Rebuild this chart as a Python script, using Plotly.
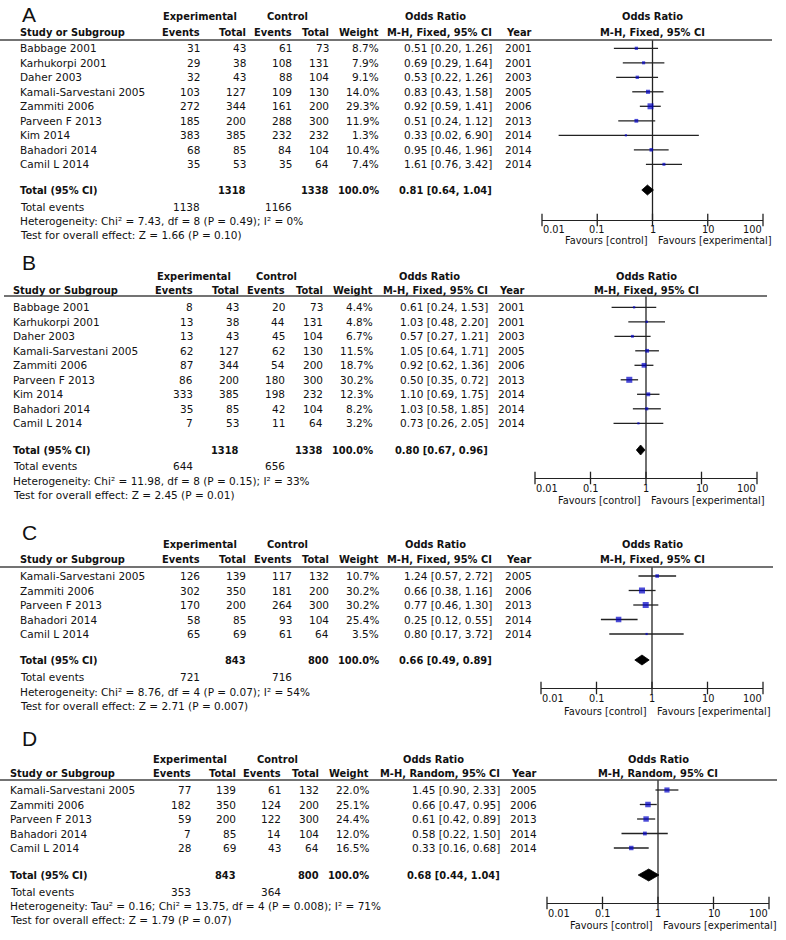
import math
import plotly.graph_objects as go

W, H = 786, 940

# ---------------- data ----------------
STUDIES_AB = ["Babbage 2001", "Karhukorpi 2001", "Daher 2003", "Kamali-Sarvestani 2005",
              "Zammiti 2006", "Parveen F 2013", "Kim 2014", "Bahadori 2014", "Camil L 2014"]
YEARS_AB = [2001, 2001, 2003, 2005, 2006, 2013, 2014, 2014, 2014]
STUDIES_CD = ["Kamali-Sarvestani 2005", "Zammiti 2006", "Parveen F 2013", "Bahadori 2014", "Camil L 2014"]
YEARS_CD = [2005, 2006, 2013, 2014, 2014]

A_exp_events = [31, 29, 32, 103, 272, 185, 383, 68, 35]
A_exp_total = [43, 38, 43, 127, 344, 200, 385, 85, 53]
A_ctl_events = [61, 108, 88, 109, 161, 288, 232, 84, 35]
A_ctl_total = [73, 131, 104, 130, 200, 300, 232, 104, 64]
A_weight = [8.7, 7.9, 9.1, 14.0, 29.3, 11.9, 1.3, 10.4, 7.4]
A_or = [0.51, 0.69, 0.53, 0.83, 0.92, 0.51, 0.33, 0.95, 1.61]
A_lo = [0.20, 0.29, 0.22, 0.43, 0.59, 0.24, 0.02, 0.46, 0.76]
A_hi = [1.26, 1.64, 1.26, 1.58, 1.41, 1.12, 6.90, 1.96, 3.42]
A_pooled = [0.81, 0.64, 1.04]
A_totals = [1318, 1338]
A_events = [1138, 1166]
A_het = "Heterogeneity: Chi² = 7.43, df = 8 (P = 0.49); I² = 0%"
A_test = "Test for overall effect: Z = 1.66 (P = 0.10)"

B_exp_events = [8, 13, 13, 62, 87, 86, 333, 35, 7]
B_exp_total = [43, 38, 43, 127, 344, 200, 385, 85, 53]
B_ctl_events = [20, 44, 45, 62, 54, 180, 198, 42, 11]
B_ctl_total = [73, 131, 104, 130, 200, 300, 232, 104, 64]
B_weight = [4.4, 4.8, 6.7, 11.5, 18.7, 30.2, 12.3, 8.2, 3.2]
B_or = [0.61, 1.03, 0.57, 1.05, 0.92, 0.50, 1.10, 1.03, 0.73]
B_lo = [0.24, 0.48, 0.27, 0.64, 0.62, 0.35, 0.69, 0.58, 0.26]
B_hi = [1.53, 2.20, 1.21, 1.71, 1.36, 0.72, 1.75, 1.85, 2.05]
B_pooled = [0.80, 0.67, 0.96]
B_totals = [1318, 1338]
B_events = [644, 656]
B_het = "Heterogeneity: Chi² = 11.98, df = 8 (P = 0.15); I² = 33%"
B_test = "Test for overall effect: Z = 2.45 (P = 0.01)"

C_exp_events = [126, 302, 170, 58, 65]
C_exp_total = [139, 350, 200, 85, 69]
C_ctl_events = [117, 181, 264, 93, 61]
C_ctl_total = [132, 200, 300, 104, 64]
C_weight = [10.7, 30.2, 30.2, 25.4, 3.5]
C_or = [1.24, 0.66, 0.77, 0.25, 0.80]
C_lo = [0.57, 0.38, 0.46, 0.12, 0.17]
C_hi = [2.72, 1.16, 1.30, 0.55, 3.72]
C_pooled = [0.66, 0.49, 0.89]
C_totals = [843, 800]
C_events = [721, 716]
C_het = "Heterogeneity: Chi² = 8.76, df = 4 (P = 0.07); I² = 54%"
C_test = "Test for overall effect: Z = 2.71 (P = 0.007)"

D_exp_events = [77, 182, 59, 7, 28]
D_exp_total = [139, 350, 200, 85, 69]
D_ctl_events = [61, 124, 122, 14, 43]
D_ctl_total = [132, 200, 300, 104, 64]
D_weight = [22.0, 25.1, 24.4, 12.0, 16.5]
D_or = [1.45, 0.66, 0.61, 0.58, 0.33]
D_lo = [0.90, 0.47, 0.42, 0.22, 0.16]
D_hi = [2.33, 0.95, 0.89, 1.50, 0.68]
D_pooled = [0.68, 0.44, 1.04]
D_totals = [843, 800]
D_events = [353, 364]
D_het = "Heterogeneity: Tau² = 0.16; Chi² = 13.75, df = 4 (P = 0.008); I² = 71%"
D_test = "Test for overall effect: Z = 1.79 (P = 0.07)"

TICK_VALS = [0.01, 0.1, 1, 10, 100]
TICK_TEXT = ["0.01", "0.1", "1", "10", "100"]

# ---------------- layout constants (pixels) ----------------
PANELS = [
    dict(label="A", method="M-H, Fixed, 95% CI", studies=STUDIES_AB, years=YEARS_AB,
         ee=A_exp_events, et=A_exp_total, ce=A_ctl_events, ct=A_ctl_total, w=A_weight,
         orr=A_or, lo=A_lo, hi=A_hi, pooled=A_pooled, totals=A_totals, events=A_events,
         het=A_het, test=A_test,
         label_y=15, h1=16, h2=32, line_y=40, row0=48.3, total_y=190, te_y=207, het_y=221, test_y=235,
         axis_y=220, tick_y=230, fav_y=241,
         sx=20, ev=200, tot=246, cev=292, ctot=329, wr=379, orr_r=492, yr=532,
         exp_c=200, ctl_c=287, orh_c=435, ax0=542, ax1=763, lx0=0, lx1=772),
    dict(label="B", method="M-H, Fixed, 95% CI", studies=STUDIES_AB, years=YEARS_AB,
         ee=B_exp_events, et=B_exp_total, ce=B_ctl_events, ct=B_ctl_total, w=B_weight,
         orr=B_or, lo=B_lo, hi=B_hi, pooled=B_pooled, totals=B_totals, events=B_events,
         het=B_het, test=B_test,
         label_y=262, h1=276, h2=290, line_y=296, row0=307.3, total_y=450, te_y=466, het_y=481, test_y=495,
         axis_y=478, tick_y=488, fav_y=500,
         sx=13, ev=193, tot=239, cev=285, ctot=323, wr=373, orr_r=488, yr=525,
         exp_c=194, ctl_c=276, orh_c=429, ax0=535, ax1=757, lx0=4, lx1=767),
    dict(label="C", method="M-H, Fixed, 95% CI", studies=STUDIES_CD, years=YEARS_CD,
         ee=C_exp_events, et=C_exp_total, ce=C_ctl_events, ct=C_ctl_total, w=C_weight,
         orr=C_or, lo=C_lo, hi=C_hi, pooled=C_pooled, totals=C_totals, events=C_events,
         het=C_het, test=C_test,
         label_y=532, h1=544, h2=559, line_y=567, row0=576, total_y=660, te_y=677, het_y=692, test_y=706,
         axis_y=688, tick_y=698, fav_y=711,
         sx=20, ev=200, tot=246, cev=292, ctot=329, wr=379, orr_r=492, yr=532,
         exp_c=200, ctl_c=287, orh_c=435, ax0=541, ax1=763, lx0=0, lx1=773),
    dict(label="D", method="M-H, Random, 95% CI", studies=STUDIES_CD, years=YEARS_CD,
         ee=D_exp_events, et=D_exp_total, ce=D_ctl_events, ct=D_ctl_total, w=D_weight,
         orr=D_or, lo=D_lo, hi=D_hi, pooled=D_pooled, totals=D_totals, events=D_events,
         het=D_het, test=D_test,
         label_y=738, h1=759, h2=773, line_y=780, row0=790, total_y=875, te_y=892, het_y=906, test_y=920,
         axis_y=903, tick_y=913, fav_y=925,
         sx=10, ev=191, tot=236, cev=281, ctot=319, wr=369, orr_r=500, yr=537,
         exp_c=190, ctl_c=277, orh_c=433, ax0=547, ax1=769, lx0=0, lx1=777),
]
ROW_SP = 14.5

FONT = "DejaVu Sans"
FS = 10.5
FS_BOLD = 9.9
FS_AXIS = 9.8
TXT = "#111111"
LINE = "#222222"
BLUE = "#0000c8"

fig = go.Figure()
annotations = []
shapes = []


def px(x):
    return x / W


def py(y):
    return 1 - y / H


def text(x, y, s, anchor="left", bold=False, size=None, family=FONT):
    if size is None:
        size = FS_BOLD if bold else FS
    annotations.append(dict(
        x=px(x), y=py(y), xref="paper", yref="paper",
        text=f"<b>{s}</b>" if bold else s, showarrow=False,
        xanchor=anchor, yanchor="middle", borderpad=0, borderwidth=0,
        font=dict(family=family, size=size, color=TXT)))


layout_axes = {}
for k, P in enumerate(PANELS, start=1):
    xa = "x" if k == 1 else f"x{k}"
    ya = "y" if k == 1 else f"y{k}"
    xkey = "xaxis" if k == 1 else f"xaxis{k}"
    ykey = "yaxis" if k == 1 else f"yaxis{k}"
    n = len(P["studies"])
    r0, sp = P["row0"], ROW_SP

    def rowpx(i):
        return r0 + i * sp

    # panel label
    text(22, P["label_y"], P["label"], size=21, family="Liberation Sans")
    # headers
    text(P["exp_c"], P["h1"], "Experimental", "center", bold=True)
    text(P["ctl_c"], P["h1"], "Control", "center", bold=True)
    text(P["orh_c"], P["h1"], "Odds Ratio", "center", bold=True)
    fc = (P["ax0"] + P["ax1"]) / 2
    text(fc, P["h1"], "Odds Ratio", "center", bold=True)
    text(P["sx"], P["h2"], "Study or Subgroup", "left", bold=True)
    text(P["ev"], P["h2"], "Events", "right", bold=True)
    text(P["tot"], P["h2"], "Total", "right", bold=True)
    text(P["cev"], P["h2"], "Events", "right", bold=True)
    text(P["ctot"], P["h2"], "Total", "right", bold=True)
    text(P["wr"], P["h2"], "Weight", "right", bold=True)
    text(P["orr_r"], P["h2"], P["method"], "right", bold=True)
    text(P["yr"], P["h2"], "Year", "right", bold=True)
    text(fc, P["h2"], P["method"], "center", bold=True)
    shapes.append(dict(type="line", xref="paper", yref="paper",
                       x0=px(P["lx0"]), x1=px(P["lx1"]), y0=py(P["line_y"]), y1=py(P["line_y"]),
                       line=dict(color="#444444", width=1.5)))
    # study rows
    for i in range(n):
        y = rowpx(i)
        text(P["sx"], y, P["studies"][i])
        text(P["ev"], y, str(P["ee"][i]), "right")
        text(P["tot"], y, str(P["et"][i]), "right")
        text(P["cev"], y, str(P["ce"][i]), "right")
        text(P["ctot"], y, str(P["ct"][i]), "right")
        text(P["wr"], y, f"{P['w'][i]:.1f}%", "right")
        text(P["orr_r"], y, f"{P['orr'][i]:.2f} [{P['lo'][i]:.2f}, {P['hi'][i]:.2f}]", "right")
        text(P["yr"], y, str(P["years"][i]), "right")
    # total rows
    pe, pl, ph = P["pooled"]
    text(P["sx"], P["total_y"], "Total (95% CI)", "left", bold=True)
    text(P["tot"], P["total_y"], str(P["totals"][0]), "right", bold=True)
    text(P["ctot"], P["total_y"], str(P["totals"][1]), "right", bold=True)
    text(P["wr"], P["total_y"], "100.0%", "right", bold=True)
    text(P["orr_r"], P["total_y"], f"{pe:.2f} [{pl:.2f}, {ph:.2f}]", "right", bold=True)
    text(P["sx"], P["te_y"], "Total events")
    text(P["ev"], P["te_y"], str(P["events"][0]), "right")
    text(P["cev"], P["te_y"], str(P["events"][1]), "right")
    text(P["sx"], P["het_y"], P["het"])
    text(P["sx"], P["test_y"], P["test"])

    # forest axes: y in row units
    y_bottom = (P["axis_y"] - r0) / sp
    y_top = (P["line_y"] - r0) / sp
    layout_axes[xkey] = dict(type="log", range=[-2, 2], domain=[px(P["ax0"]), px(P["ax1"])],
                             anchor=ya, showline=True, linecolor=LINE, linewidth=1.3,
                             ticks="", showticklabels=False, showgrid=False, zeroline=False)
    layout_axes[ykey] = dict(range=[y_bottom, y_top], domain=[py(P["axis_y"]), py(P["line_y"])],
                             anchor=xa, visible=False, showgrid=False, zeroline=False)

    # line of no effect
    fig.add_trace(go.Scatter(x=[1, 1], y=[y_top, y_bottom], mode="lines", xaxis=xa, yaxis=ya,
                             line=dict(color=LINE, width=1.3), hoverinfo="skip", showlegend=False))
    # tick marks
    fig.add_trace(go.Scatter(x=TICK_VALS, y=[y_bottom] * len(TICK_VALS), mode="markers",
                             xaxis=xa, yaxis=ya, cliponaxis=False,
                             marker=dict(symbol="line-ns", size=9, line=dict(color=LINE, width=1.3)),
                             hoverinfo="skip", showlegend=False))
    for j, (tv, tt) in enumerate(zip(TICK_VALS, TICK_TEXT)):
        anc = "left" if j == 0 else ("right" if j == len(TICK_VALS) - 1 else "center")
        annotations.append(dict(x=math.log10(tv), xref=xa, y=py(P["tick_y"]), yref="paper",
                                text=tt, showarrow=False, xanchor=anc, yanchor="middle",
                                borderpad=0, font=dict(family=FONT, size=FS_AXIS, color=TXT)))
    annotations.append(dict(x=0, xref=xa, y=py(P["fav_y"]), yref="paper", text="Favours [control]",
                            showarrow=False, xanchor="right", xshift=-4, yanchor="middle", borderpad=0,
                            font=dict(family=FONT, size=FS_AXIS, color=TXT)))
    annotations.append(dict(x=0, xref=xa, y=py(P["fav_y"]), yref="paper", text="Favours [experimental]",
                            showarrow=False, xanchor="left", xshift=4, yanchor="middle", borderpad=0,
                            font=dict(family=FONT, size=FS_AXIS, color=TXT)))

    # studies: CI lines + weighted squares
    rows = list(range(n))
    fig.add_trace(go.Scatter(
        x=P["orr"], y=rows, mode="markers", xaxis=xa, yaxis=ya,
        marker=dict(symbol="square", color=BLUE, size=[max(2.2, 1.1 * math.sqrt(w)) for w in P["w"]],
                    line=dict(width=0)),
        error_x=dict(type="data", symmetric=False,
                     array=[h - o for h, o in zip(P["hi"], P["orr"])],
                     arrayminus=[o - l for o, l in zip(P["orr"], P["lo"])],
                     width=0, thickness=1.3, color=LINE),
        hoverinfo="skip", showlegend=False))
    # pooled diamond
    ty = (P["total_y"] - r0) / sp
    hh = (6 if P["label"] == "D" else 5) / sp
    fig.add_trace(go.Scatter(
        x=[pl, pe, ph, pe, pl], y=[ty, ty - hh, ty, ty + hh, ty], mode="lines", fill="toself",
        fillcolor="black", line=dict(color="black", width=0.8), xaxis=xa, yaxis=ya,
        hoverinfo="skip", showlegend=False))

fig.update_layout(
    width=W, height=H, margin=dict(l=0, r=0, t=0, b=0),
    paper_bgcolor="white", plot_bgcolor="rgba(0,0,0,0)",
    annotations=annotations, shapes=shapes, showlegend=False, hovermode=False,
    **layout_axes)

fig.write_html("out.html", config={"displayModeBar": False},
               post_script="document.body.style.margin='0';")
